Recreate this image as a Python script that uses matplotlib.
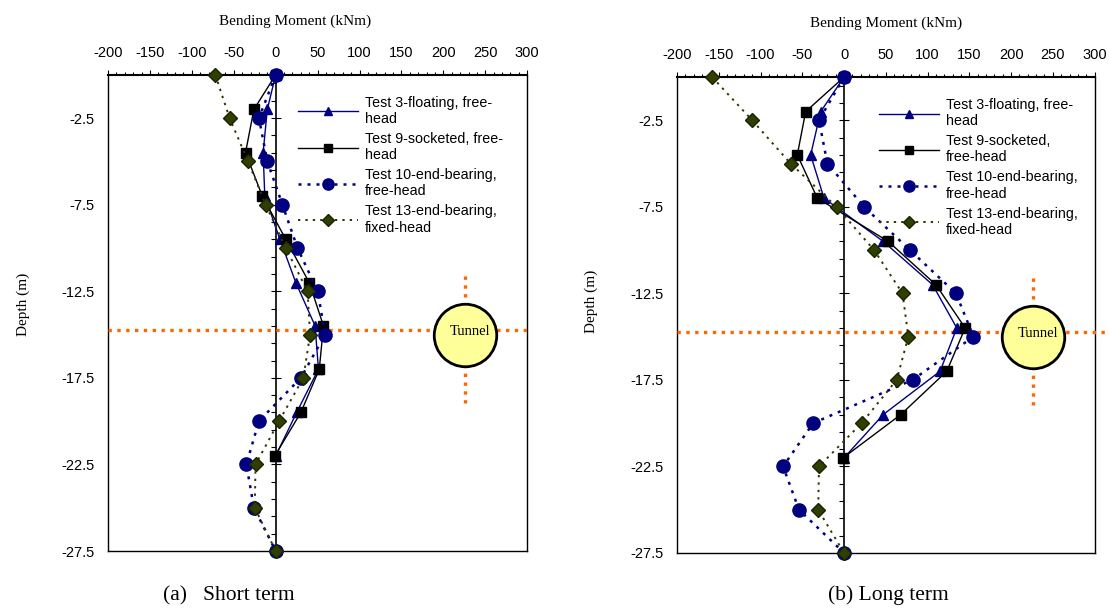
import matplotlib
matplotlib.use("Agg")
import matplotlib.pyplot as plt
import numpy as np
from matplotlib.ticker import MultipleLocator, FixedLocator

plt.rcParams["font.family"] = ["Liberation Sans", "DejaVu Sans"]
plt.rcParams["axes.unicode_minus"] = False

# depths (m)
depth_short_pile = [0, -2, -4.5, -7, -9.5, -12, -14.5, -17, -19.5, -22]
depth_long_pile = [0, -2.5, -5, -7.5, -10, -12.5, -15, -17.5, -20, -22.5, -25, -27.5]

# (a) short term bending moments (kNm)
t3_short = [0, -10, -15, -13, 5, 24, 47, 51, 25, 0]
t9_short = [0, -26, -36, -16, 12, 40, 57, 52, 30, -1]
t10_short = [0, -20, -10, 8, 26, 50, 59, 30, -20, -35, -26, 0]
t13_short = [-72, -55, -33, -12, 12, 38, 41, 33, 4, -24, -25, 0]

# (b) long term bending moments (kNm)
t3_long = [0, -28, -40, -24, 47, 106, 135, 115, 47, 0]
t9_long = [0, -46, -56, -32, 53, 110, 145, 123, 68, -1]
t10_long = [0, -30, -20, 24, 79, 134, 155, 82, -37, -73, -54, 0]
t13_long = [-158, -110, -64, -9, 36, 70, 77, 63, 21, -30, -31, 0]

labels_a = ["Test 3-floating, free-\nhead", "Test 9-socketed, free-\nhead",
            "Test 10-end-bearing,\nfree-head", "Test 13-end-bearing,\nfixed-head"]
labels_b = ["Test 3-floating, free-\nhead", "Test 9-socketed,\nfree-head",
            "Test 10-end-bearing,\nfree-head", "Test 13-end-bearing,\nfixed-head"]

# tunnel (centre in kNm/depth coordinates of the chart)
tunnel_x = 226
tunnel_depth = -15.0
tunnel_line_depth = -14.75
tunnel_vline = [-11.6, -19.2]

NAVY = "#000080"
OLIVE = "#333300"
ORANGE = "#FF6600"
SERIF = ["Liberation Serif", "DejaVu Serif"]

fig = plt.figure(figsize=(11.09, 6.09), dpi=100)
ax_a = fig.add_axes([0.0974, 0.0952, 0.378, 0.782])
ax_b = fig.add_axes([0.6105, 0.0920, 0.3765, 0.7815])


def draw_panel(ax, t3, t9, t10, t13, labels, legend_x, line_ext):
    ax.plot(t3, depth_short_pile, "-", color=NAVY, lw=1.0, marker="^", ms=7,
            mfc=NAVY, mec=NAVY, clip_on=False, zorder=4, label=labels[0])
    ax.plot(t9, depth_short_pile, "-", color="black", lw=1.0, marker="s", ms=6.5,
            mfc="black", mec="black", clip_on=False, zorder=4, label=labels[1])
    ax.plot(t10, depth_long_pile, color=NAVY, lw=1.8, ls=(0, (1.2, 2.4)), marker="o", ms=9.5,
            mfc=NAVY, mec=NAVY, clip_on=False, zorder=4, label=labels[2])
    ax.plot(t13, depth_long_pile, color=OLIVE, lw=1.4, ls=(0, (1.2, 2.6)), marker="D", ms=7.5,
            mfc="#2E3F00", mec="#1A2400", clip_on=False, zorder=4, label=labels[3])

    # tunnel
    ax.plot([-200, line_ext], [tunnel_line_depth, tunnel_line_depth], ls=":", lw=2.4,
            color=ORANGE, clip_on=False, zorder=3)
    ax.plot([tunnel_x, tunnel_x], tunnel_vline, ls=":", lw=2.4, color=ORANGE, zorder=3)
    ax.plot([tunnel_x], [tunnel_depth], "o", ms=45, mfc="#FFFF99", mec="black", mew=2,
            zorder=5, clip_on=False)
    ax.text(tunnel_x + 6, tunnel_depth + 0.2, "Tunnel", ha="center", va="center",
            family=SERIF, fontsize=10.5, zorder=6)

    ax.set_xlim(-200, 300)
    ax.set_ylim(-27.5, 0)

    ax.xaxis.tick_top()
    ax.set_xticks(np.arange(-200, 301, 50))
    ax.xaxis.set_minor_locator(MultipleLocator(10))
    ax.tick_params(axis="x", which="major", direction="out", length=3.5, width=0.8,
                   pad=7, labelsize=10.5)
    ax.tick_params(axis="x", which="minor", direction="out", length=2.2, width=0.8)

    ax.set_yticks(np.arange(-27.5, 0, 5))
    ax.set_yticklabels([f"{v:g}" for v in np.arange(-27.5, 0, 5)])
    ax.tick_params(axis="y", which="both", length=0, pad=10, labelsize=10.5)

    for s in ax.spines.values():
        s.set_linewidth(1.0)
    ax.spines["top"].set_linewidth(1.5)

    sec = ax.secondary_yaxis(0.4)
    sec.set_yticks(np.arange(-27.5, 0, 5))
    sec.yaxis.set_minor_locator(FixedLocator(np.arange(-27.5, 0, 1)))
    sec.tick_params(which="major", direction="inout", length=7, width=0.8,
                    labelleft=False, labelright=False)
    sec.tick_params(which="minor", direction="out", length=3.5, width=0.8)
    sec.spines["left"].set_linewidth(1.2)

    ax.legend(loc="upper left", bbox_to_anchor=(legend_x, 0.968), frameon=False,
              fontsize=10.3, handlelength=4.2, handletextpad=0.45, labelspacing=0.42,
              numpoints=1, borderaxespad=0, markerscale=0.85)


draw_panel(ax_a, t3_short, t9_short, t10_short, t13_short, labels_a, 0.44, 300)
draw_panel(ax_b, t3_long, t9_long, t10_long, t13_long, labels_b, 0.47, 316)

fig.text(0.266, 0.965, "Bending Moment (kNm)", ha="center", va="center",
         family=SERIF, fontsize=11)
fig.text(0.799, 0.962, "Bending Moment (kNm)", ha="center", va="center",
         family=SERIF, fontsize=11)
fig.text(0.021, 0.50, "Depth (m)", rotation=90, ha="center", va="center",
         family=SERIF, fontsize=11)
fig.text(0.533, 0.505, "Depth (m)", rotation=90, ha="center", va="center",
         family=SERIF, fontsize=11)

fig.text(0.206, 0.022, "(a)   Short term", ha="center", va="center",
         family=SERIF, fontsize=15.5)
fig.text(0.801, 0.022, "(b) Long term", ha="center", va="center",
         family=SERIF, fontsize=15.5)

fig.savefig("out.png", dpi=100)
